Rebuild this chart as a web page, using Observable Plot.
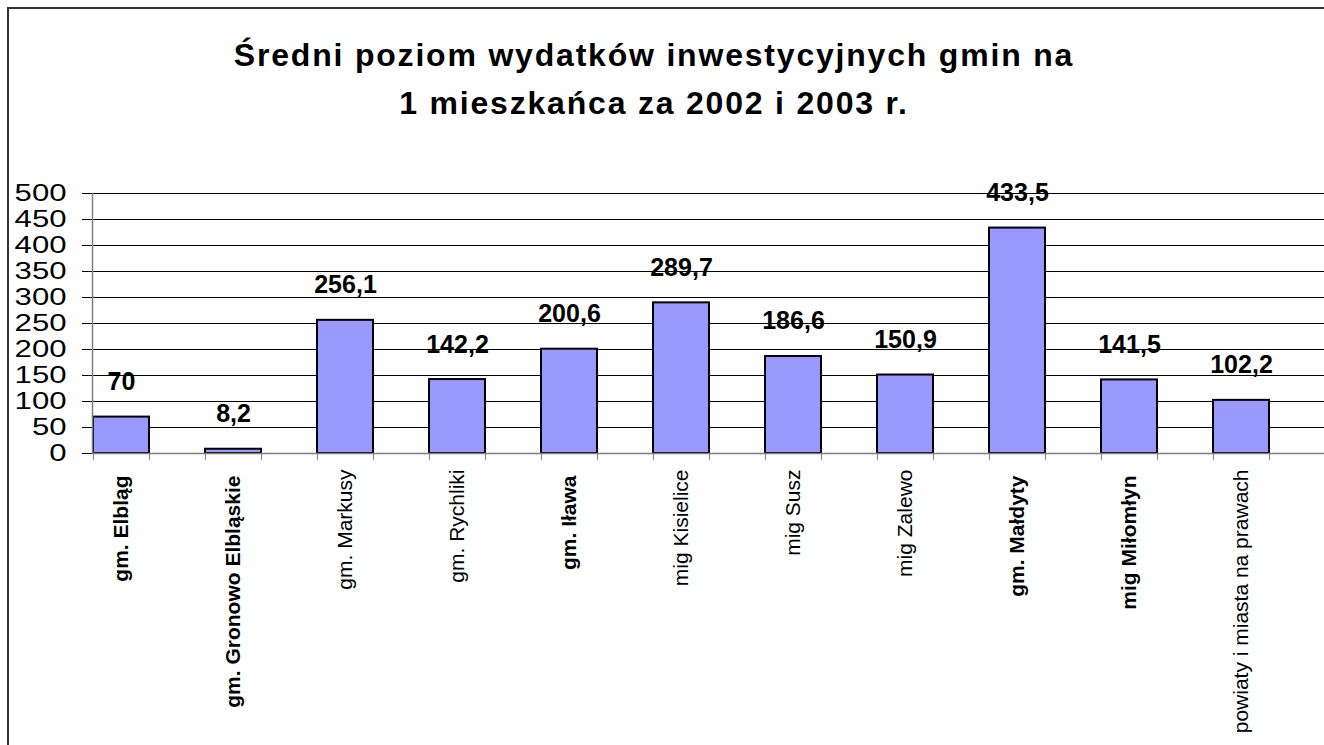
<!DOCTYPE html>
<html>
<head>
<meta charset="utf-8">
<script src="https://cdn.jsdelivr.net/npm/d3@7"></script>
<script src="https://cdn.jsdelivr.net/npm/@observablehq/plot@0.6"></script>
<style>
  html, body { margin: 0; padding: 0; background: #fff; overflow: hidden; }
  body { width: 1324px; height: 745px; position: relative; font-family: "Liberation Sans", Arial, sans-serif; }
  #border { position: absolute; left: 7px; top: 7px; width: 1400px; height: 800px; border: 2px solid #333; box-sizing: border-box; }
  #title { position: absolute; left: 0; top: 31px; width: 1308px; text-align: center; font-weight: bold; font-size: 32px; line-height: 48px; letter-spacing: 1.8px; color: #000; }
  #chart { position: absolute; left: 0; top: 0; }
</style>
</head>
<body>
<div id="border"></div>
<div id="title">Średni poziom wydatków inwestycyjnych gmin na<br>1 mieszkańca za 2002 i 2003 r.</div>
<div id="chart"></div>
<script>
const categories = ["gm. Elbląg", "gm. Gronowo Elbląskie", "gm. Markusy", "gm. Rychliki", "gm. Iława", "mig Kisielice", "mig Susz", "mig Zalewo", "gm. Małdyty", "mig Miłomłyn", "powiaty i miasta na prawach"];
const values = [70, 8.2, 256.1, 142.2, 200.6, 289.7, 186.6, 150.9, 433.5, 141.5, 102.2];
const boldLabels = ["gm. Elbląg", "gm. Gronowo Elbląskie", "gm. Iława", "gm. Małdyty", "mig Miłomłyn"];
const yTicks = [0, 50, 100, 150, 200, 250, 300, 350, 400, 450, 500];

const data = categories.map((c, i) => ({category: c, value: values[i]}));
const fmt = v => String(v).replace(".", ",");
const xRange = [92, 1270];
const bw = (xRange[1] - xRange[0]) / (categories.length - 0.5) * 0.5;

const chart = Plot.plot({
  width: 1324,
  height: 745,
  marginLeft: 92,
  marginRight: 0,
  marginTop: 193,
  marginBottom: 292,
  style: {fontFamily: '"Liberation Sans", Arial, sans-serif', background: "transparent", overflow: "visible"},
  x: {domain: categories, range: xRange, paddingInner: 0.5, paddingOuter: 0, axis: null},
  y: {domain: [0, 500], axis: null},
  marks: [
    Plot.gridY(yTicks, {stroke: "#000", strokeOpacity: 1, strokeWidth: 1}),
    Plot.axisY(yTicks, {anchor: "left", tickSize: 10, tickPadding: 16, stroke: "#000", fontSize: 24, label: null, fill: "#000"}),
    Plot.barY(data, {x: "category", y: "value", fill: "#9999ff", stroke: "#000", strokeWidth: 2}),
    Plot.ruleY([0], {stroke: "#808080", strokeWidth: 1.5}),
    Plot.frame({anchor: "left", stroke: "#808080", strokeWidth: 1.5}),
    Plot.axisX(categories, {anchor: "bottom", tickSize: 7, dx: -bw / 2, tickFormat: () => null, stroke: "#808080", label: null}),
    Plot.axisX(categories, {anchor: "bottom", tickSize: 7, dx: bw / 2, tickFormat: () => null, stroke: "#808080", label: null}),
    Plot.text(data, {x: "category", y: "value", text: d => fmt(d.value), dy: -35, fontSize: 25, fontWeight: "bold", fill: "#000", lineAnchor: "middle"}),
    Plot.text(categories.filter(c => !boldLabels.includes(c)), {x: d => d, frameAnchor: "bottom", dy: 16, rotate: -90, textAnchor: "end", lineAnchor: "middle", fontSize: 21, fill: "#000"}),
    Plot.text(categories.filter(c => boldLabels.includes(c)), {x: d => d, frameAnchor: "bottom", dy: 22, rotate: -90, textAnchor: "end", lineAnchor: "middle", fontSize: 21, fontWeight: "bold", fill: "#000"})
  ]
});
document.getElementById("chart").appendChild(chart);
// widen the y tick labels like the reference's stretched digits
chart.querySelectorAll('[aria-label="y-axis tick label"] text').forEach(t => {
  const n = t.textContent.length;
  t.setAttribute("textLength", 17.3 * n);
  t.setAttribute("lengthAdjust", "spacingAndGlyphs");
});
</script>
</body>
</html>
